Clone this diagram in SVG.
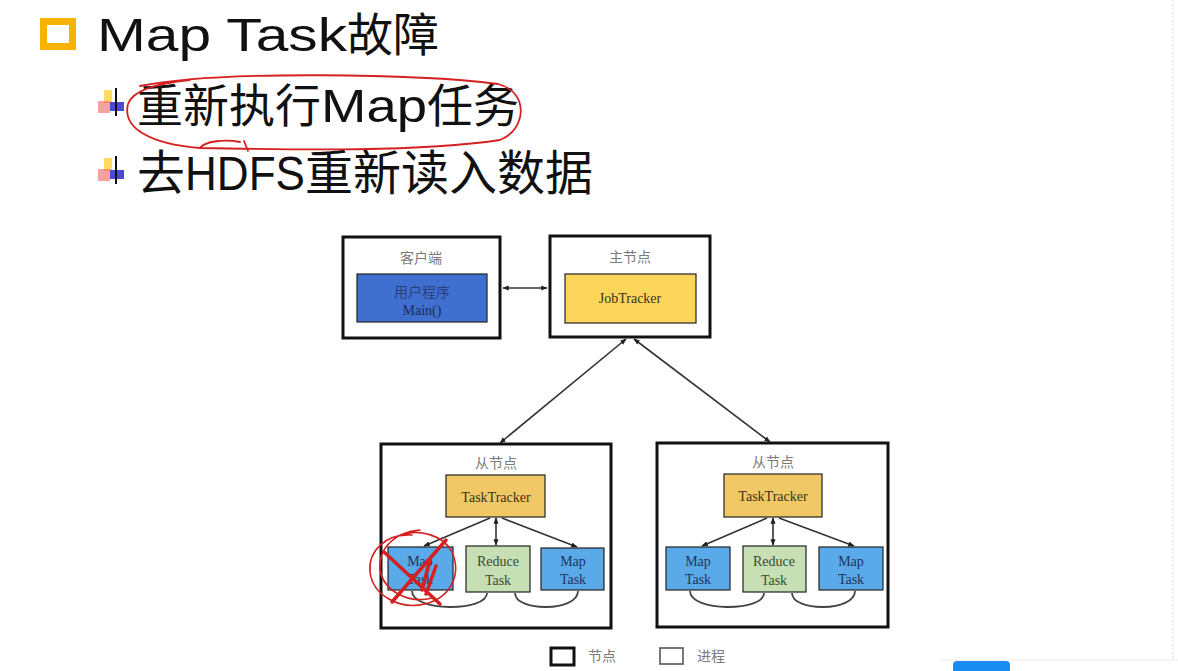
<svg xmlns="http://www.w3.org/2000/svg" width="1178" height="671" viewBox="0 0 1178 671">
<defs>
<style>
.title{font-family:"Liberation Sans","Noto Sans CJK SC",sans-serif;fill:#111}
.lbl{font-family:"Liberation Serif","Noto Sans CJK SC",serif;font-size:14px;text-anchor:middle}
.gray{fill:#7a7a7a}
.node{fill:none;stroke:#111;stroke-width:3}
.proc{stroke:#222;stroke-width:1.2}
.blue{fill:#3f70cf}
.yel{fill:#fdd55b}
.tt{fill:#f0c865}
.map{fill:#5aa9e8}
.red{fill:#c6dfb5}
.tmap{fill:#1d3560}
.tred{fill:#3c4a2e}
.tdark{fill:#3a3320}
.conn{fill:none;stroke:#333;stroke-width:1.6}
.loop{fill:none;stroke:#444;stroke-width:1.8}
.ink{fill:none;stroke:#d42020;stroke-linecap:round}
</style>
<marker id="ah" viewBox="0 0 10 10" refX="9" refY="5" markerWidth="4" markerHeight="4" orient="auto-start-reverse">
<path d="M0,1 L10,5 L0,9 z" fill="#222"/>
</marker>
</defs>

<rect width="1178" height="671" fill="#ffffff"/>
<line x1="1173" y1="0" x2="1173" y2="660" stroke="#e4e4e4" stroke-width="1.5" stroke-dasharray="2 2"/>

<g id="heading">
<rect x="43.5" y="21.5" width="29" height="25" fill="none" stroke="#f7b300" stroke-width="7"/>
<text class="title" x="97" y="51" font-size="46"><tspan textLength="250" lengthAdjust="spacingAndGlyphs">Map Task</tspan><tspan>故障</tspan></text>
</g>

<g id="bullet1">
<rect x="104" y="90" width="8" height="13" fill="#ffd23a" opacity="0.8"/>
<rect x="98" y="101" width="12" height="12" fill="#f06060" opacity="0.6"/>
<rect x="110" y="102" width="14" height="9" fill="#2a2ad0" opacity="0.85"/>
<line x1="116" y1="88" x2="116" y2="116" stroke="#111" stroke-width="2"/>
<text class="title" x="137" y="122" font-size="46"><tspan>重新执行</tspan><tspan textLength="106" lengthAdjust="spacingAndGlyphs">Map</tspan><tspan>任务</tspan></text>
</g>

<g id="bullet2">
<rect x="104" y="158" width="8" height="13" fill="#ffd23a" opacity="0.8"/>
<rect x="98" y="169" width="12" height="12" fill="#f06060" opacity="0.6"/>
<rect x="110" y="170" width="14" height="9" fill="#2a2ad0" opacity="0.85"/>
<line x1="116" y1="156" x2="116" y2="184" stroke="#111" stroke-width="2"/>
<text class="title" x="137" y="190" font-size="48"><tspan>去</tspan><tspan textLength="120" lengthAdjust="spacingAndGlyphs">HDFS</tspan><tspan>重新读入数据</tspan></text>
</g>

<g id="annotation-ellipse">
<path class="ink" stroke-width="1.8" d="M140,86 C220,70 420,74 498,84 C530,92 526,130 500,140 C420,152 300,150 200,148 C150,144 122,128 128,104 C132,92 150,84 190,80 M240,142 C225,139 205,141 200,148 M244,141 L248,151"/>
</g>

<g id="client">
<rect x="343" y="237" width="157" height="101" fill="#fff"/>
<rect class="node" x="343" y="237" width="157" height="101"/>
<text class="lbl gray" x="421" y="263">客户端</text>
<rect class="proc blue" x="357" y="274" width="130" height="48"/>
<text class="lbl" x="422" y="297" fill="#2a3f7e">用户程序</text>
<text class="lbl" x="422" y="315" fill="#1c2c5e">Main()</text>
</g>

<g id="master">
<rect class="node" x="550" y="236" width="160" height="101"/>
<text class="lbl gray" x="630" y="262">主节点</text>
<rect class="proc yel" x="565" y="274" width="131" height="49"/>
<text class="lbl tdark" x="630" y="303">JobTracker</text>
</g>

<g id="slave1">
<rect class="node" x="381" y="444" width="230" height="184"/>
<text class="lbl gray" x="496" y="468">从节点</text>
<rect class="proc tt" x="446" y="475" width="99" height="42"/>
<text class="lbl tdark" x="496" y="502">TaskTracker</text>
<rect class="proc map" x="388" y="547" width="65" height="43"/>
<text class="lbl tmap" x="420" y="566">Map</text>
<text class="lbl tmap" x="420" y="584">Task</text>
<rect class="proc red" x="466" y="546" width="64" height="46"/>
<text class="lbl tred" x="498" y="566">Reduce</text>
<text class="lbl tred" x="498" y="585">Task</text>
<rect class="proc map" x="541" y="548" width="63" height="42"/>
<text class="lbl tmap" x="573" y="566">Map</text>
<text class="lbl tmap" x="573" y="584">Task</text>
</g>

<g id="slave2">
<rect class="node" x="657" y="443" width="231" height="184"/>
<text class="lbl gray" x="773" y="467">从节点</text>
<rect class="proc tt" x="724" y="474" width="98" height="43"/>
<text class="lbl tdark" x="773" y="501">TaskTracker</text>
<rect class="proc map" x="666" y="547" width="64" height="43"/>
<text class="lbl tmap" x="698" y="566">Map</text>
<text class="lbl tmap" x="698" y="584">Task</text>
<rect class="proc red" x="743" y="546" width="63" height="46"/>
<text class="lbl tred" x="774" y="566">Reduce</text>
<text class="lbl tred" x="774" y="585">Task</text>
<rect class="proc map" x="819" y="547" width="64" height="43"/>
<text class="lbl tmap" x="851" y="566">Map</text>
<text class="lbl tmap" x="851" y="584">Task</text>
</g>

<g id="connectors">
<line class="conn" x1="503" y1="288" x2="547" y2="288" marker-start="url(#ah)" marker-end="url(#ah)"/>
<line class="conn" x1="626" y1="339" x2="500" y2="443" marker-start="url(#ah)" marker-end="url(#ah)"/>
<line class="conn" x1="634" y1="339" x2="770" y2="442" marker-start="url(#ah)" marker-end="url(#ah)"/>
<line class="conn" x1="490" y1="518" x2="424" y2="546" marker-end="url(#ah)"/>
<line class="conn" x1="496" y1="518" x2="496" y2="545" marker-start="url(#ah)" marker-end="url(#ah)"/>
<line class="conn" x1="502" y1="518" x2="577" y2="547" marker-end="url(#ah)"/>
<line class="conn" x1="767" y1="518" x2="702" y2="546" marker-end="url(#ah)"/>
<line class="conn" x1="773" y1="518" x2="773" y2="545" marker-start="url(#ah)" marker-end="url(#ah)"/>
<line class="conn" x1="779" y1="518" x2="854" y2="546" marker-end="url(#ah)"/>
<path class="loop" d="M412,591 C412,612 487,612 487,593"/>
<path class="loop" d="M515,593 C515,612 578,612 578,591"/>
<path class="loop" d="M690,591 C690,612 764,612 764,593"/>
<path class="loop" d="M792,593 C792,612 855,612 855,591"/>
</g>

<g id="annotation-cross">
<path class="ink" stroke-width="1.6" d="M412,535 C385,533 368,552 370,572 C373,596 400,610 425,604 C450,598 462,575 452,552 C444,536 420,528 400,535 M420,530 C395,532 378,548 380,570 C384,592 410,604 432,598"/>
<path class="ink" stroke-width="3.5" d="M384,552 L440,604 M446,540 L392,602 M430,560 L422,590 M436,566 L426,594"/>
</g>

<g id="legend">
<rect x="551" y="648" width="23" height="17" fill="none" stroke="#111" stroke-width="3"/>
<text class="lbl gray" x="602" y="661" font-size="13">节点</text>
<rect x="660" y="648" width="23" height="16" fill="none" stroke="#555" stroke-width="1.6"/>
<text class="lbl gray" x="711" y="661" font-size="13">进程</text>
</g>

<g id="toolbar">
<line x1="940" y1="660" x2="1178" y2="660" stroke="#ececec" stroke-width="1"/>
<rect x="953" y="661" width="57" height="14" rx="4" fill="#1a8cf0"/>
</g>
</svg>
